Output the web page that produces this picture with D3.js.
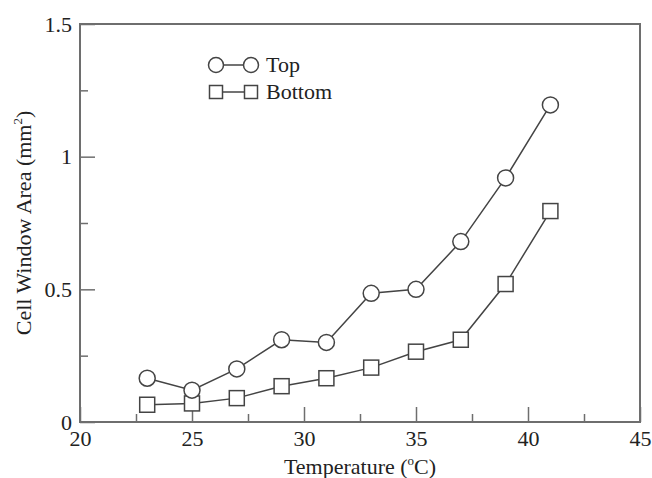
<!DOCTYPE html>
<html>
<head>
<meta charset="utf-8">
<script src="https://cdn.jsdelivr.net/npm/d3@7"></script>
<style>
  body { margin: 0; background: #fff; }
  svg text { font-family: "Liberation Serif", "DejaVu Serif", serif; fill: #222; }
</style>
</head>
<body>
<div id="chart"></div>
<script>
const width = 652;
const height = 478;
const margin = {top: 24, right: 12, bottom: 56, left: 80};
const fontSize = 22;

const temperatures = [23, 25, 27, 29, 31, 33, 35, 37, 39, 41];
const topArea = [0.165, 0.12, 0.2, 0.31, 0.30, 0.485, 0.50, 0.68, 0.92, 1.195];
const bottomArea = [0.065, 0.07, 0.09, 0.135, 0.165, 0.205, 0.265, 0.31, 0.52, 0.795];
const xMajorTicks = [20, 25, 30, 35, 40, 45];
const xMinorTicks = [22.5, 27.5, 32.5, 37.5, 42.5];
const yMajorTicks = [0, 0.5, 1, 1.5];
const yMinorTicks = [0.25, 0.75, 1.25];
const seriesNames = ["Top", "Bottom"];

const lineColor = "#444";
const frameColor = "#6e6e6e";

let svg = d3.select("#chart")
            .append("svg")
            .attr("width", width)
            .attr("height", height);

const xScale = d3.scaleLinear()
                 .domain([20, 45])
                 .range([margin.left, width - margin.right]);

const yScale = d3.scaleLinear()
                 .domain([0, 1.5])
                 .range([height - margin.bottom, margin.top]);

// ticks point inward, like the original
function styleAxis(g) {
  g.select(".domain").remove();
  g.selectAll("line").attr("stroke", frameColor).attr("stroke-width", 1.5);
  g.selectAll("text").attr("font-size", fontSize).attr("fill", "#222");
}

svg.append("g")
   .attr("transform", `translate(0, ${yScale(0)})`)
   .call(d3.axisBottom(xScale).tickValues(xMajorTicks).tickSize(-15).tickPadding(8).tickFormat(d3.format("d")))
   .call(styleAxis);

svg.append("g")
   .attr("transform", `translate(0, ${yScale(0)})`)
   .call(d3.axisBottom(xScale).tickValues(xMinorTicks).tickSize(-8).tickFormat(""))
   .call(styleAxis);

svg.append("g")
   .attr("transform", `translate(${xScale(20)}, 0)`)
   .call(d3.axisLeft(yScale).tickValues(yMajorTicks).tickSize(-15).tickPadding(8).tickFormat(d3.format("")))
   .call(styleAxis);

svg.append("g")
   .attr("transform", `translate(${xScale(20)}, 0)`)
   .call(d3.axisLeft(yScale).tickValues(yMinorTicks).tickSize(-8).tickFormat(""))
   .call(styleAxis);

// frame
svg.append("rect")
   .attr("x", xScale(20))
   .attr("y", yScale(1.5))
   .attr("width", xScale(45) - xScale(20))
   .attr("height", yScale(0) - yScale(1.5))
   .attr("fill", "none")
   .attr("stroke", frameColor)
   .attr("stroke-width", 2);

// axis titles
const xTitle = svg.append("text")
                  .attr("x", (xScale(20) + xScale(45)) / 2)
                  .attr("y", 474)
                  .attr("text-anchor", "middle")
                  .attr("font-size", fontSize);
xTitle.append("tspan").text("Temperature (");
xTitle.append("tspan").attr("font-size", 13).attr("dy", -9).text("o");
xTitle.append("tspan").attr("dy", 9).text("C)");

const yTitle = svg.append("text")
                  .attr("transform", `translate(31, ${(yScale(0) + yScale(1.5)) / 2}) rotate(-90)`)
                  .attr("text-anchor", "middle")
                  .attr("font-size", fontSize);
yTitle.append("tspan").text("Cell Window Area (mm");
yTitle.append("tspan").attr("font-size", 13).attr("dy", -9).text("2");
yTitle.append("tspan").attr("dy", 9).text(")");

const line = d3.line()
               .x(d => xScale(d[0]))
               .y(d => yScale(d[1]));

const topData = temperatures.map((t, i) => [t, topArea[i]]);
const bottomData = temperatures.map((t, i) => [t, bottomArea[i]]);

function drawSeries(data, shape) {
  svg.append("path")
     .datum(data)
     .attr("d", line)
     .attr("fill", "none")
     .attr("stroke", lineColor)
     .attr("stroke-width", 1.5);

  if (shape === "circle") {
    svg.selectAll(null)
       .data(data)
       .enter()
       .append("circle")
       .attr("cx", d => xScale(d[0]))
       .attr("cy", d => yScale(d[1]))
       .attr("r", 8)
       .attr("fill", "#fff")
       .attr("stroke", lineColor)
       .attr("stroke-width", 1.5);
  } else {
    svg.selectAll(null)
       .data(data)
       .enter()
       .append("rect")
       .attr("x", d => xScale(d[0]) - 7.5)
       .attr("y", d => yScale(d[1]) - 7.5)
       .attr("width", 15)
       .attr("height", 15)
       .attr("fill", "#fff")
       .attr("stroke", lineColor)
       .attr("stroke-width", 1.5);
  }
}

drawSeries(bottomData, "square");
drawSeries(topData, "circle");

// legend
const legend = svg.append("g").attr("transform", "translate(216, 65)");
seriesNames.forEach((name, i) => {
  const row = legend.append("g").attr("transform", `translate(0, ${i * 27})`);
  row.append("line")
     .attr("x1", 0).attr("x2", 35)
     .attr("stroke", lineColor).attr("stroke-width", 1.5);
  [0, 35].forEach(cx => {
    if (i === 0) {
      row.append("circle").attr("cx", cx).attr("r", 7.5)
         .attr("fill", "#fff").attr("stroke", lineColor).attr("stroke-width", 1.5);
    } else {
      row.append("rect").attr("x", cx - 6.5).attr("y", -6.5).attr("width", 13).attr("height", 13)
         .attr("fill", "#fff").attr("stroke", lineColor).attr("stroke-width", 1.5);
    }
  });
  row.append("text")
     .attr("x", 50)
     .attr("y", 7)
     .attr("font-size", fontSize)
     .text(name);
});
</script>
</body>
</html>
